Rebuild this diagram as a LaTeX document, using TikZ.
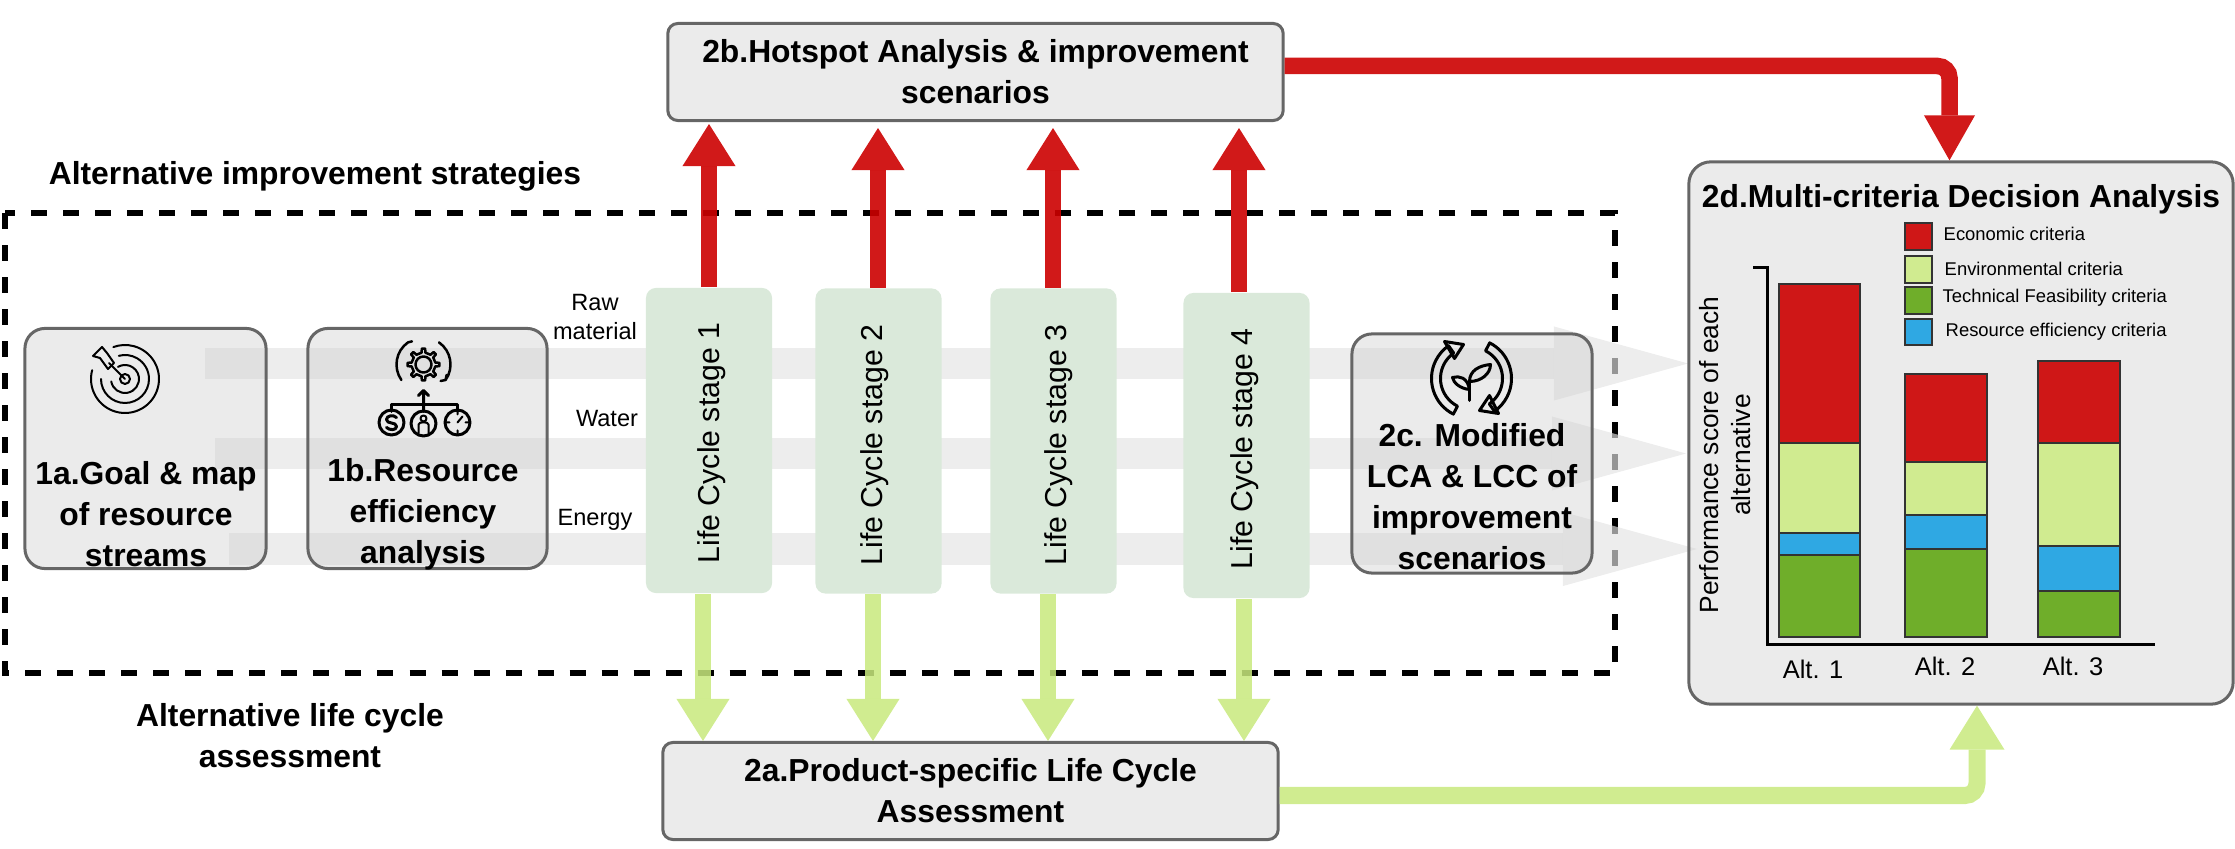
\documentclass[tikz,border=0pt]{standalone}
\usepackage{fontspec}
\setmainfont{Liberation Sans}
\usetikzlibrary{calc,positioning}
\usetikzlibrary{arrows.meta}
\definecolor{cred}{RGB}{204,0,0}
\definecolor{clime}{RGB}{200,233,125}
\definecolor{cbarred}{RGB}{207,23,23}
\definecolor{cbarlime}{RGB}{208,235,144}
\definecolor{cbargreen}{RGB}{111,174,42}
\definecolor{cbarblue}{RGB}{47,168,227}
\definecolor{cstage}{RGB}{218,233,218}
\definecolor{cbox}{RGB}{207,207,207}
\definecolor{cedge}{RGB}{102,102,102}
\definecolor{cflow}{RGB}{227,227,227}

\begin{document}
\begin{tikzpicture}[x=0.01cm,y=-0.01cm]
  \tikzstyle{boxnode} = [draw=cedge, line width=0.3mm, fill=cbox, fill opacity=0.42, text opacity=1, inner sep=0pt, align=center, font=\fontsize{9.05}{11.66}\selectfont\bfseries]
  \tikzstyle{boldtext} = [inner sep=0pt, align=center, font=\fontsize{9.05}{11.66}\selectfont\bfseries]
  \tikzstyle{stagenode} = [fill=cstage, rounded corners=1mm, inner sep=0pt, minimum width=1.26cm, minimum height=3.05cm]
  \tikzstyle{stagetext} = [rotate=90, inner sep=0pt, font=\fontsize{8.6}{10}\selectfont]
  \tikzstyle{sidetext} = [inner sep=0pt, align=center, font=\fontsize{6.7}{8.2}\selectfont]
  \tikzstyle{legtext} = [inner sep=0pt, anchor=west, font=\fontsize{5.24}{6.4}\selectfont]
  \tikzstyle{alttext} = [inner sep=0pt, font=\fontsize{7.25}{9}\selectfont]
  \tikzstyle{flowarrow} = [draw=cflow, opacity=0.66, line width=0.31cm, -{Triangle[length=1.34cm,width=0.74cm,line width=0pt]}]
  \tikzstyle{redarrow} = [draw=cred, opacity=0.9, line width=0.16cm, -{Triangle[length=0.42cm,width=0.53cm,line width=0pt]}]
  \tikzstyle{limearrow} = [draw=clime, opacity=0.85, line width=0.16cm, -{Triangle[length=0.42cm,width=0.53cm,line width=0pt]}]
  \tikzstyle{bar} = [draw=black!80, line width=0.15mm]
  \tikzstyle{icon} = [draw=black, line width=0.2mm, line cap=round, line join=round]
  \useasboundingbox (0,0) rectangle (2235,849);

  % dashed frame
  \draw[black, line width=0.6mm, dash pattern=on 1.6mm off 1.6mm] (5,213) rectangle (1615,673);

  % resource flows
  \coordinate (rawstart) at (205,363.5);
  \coordinate (rawend) at (1688,363.5);
  \coordinate (waterstart) at (215,453.5);
  \coordinate (waterend) at (1686,453.5);
  \coordinate (energystart) at (229,549);
  \coordinate (energyend) at (1697,549);
  \draw[flowarrow] (rawstart) -- (rawend);
  \draw[flowarrow] (waterstart) -- (waterend);
  \draw[flowarrow] (energystart) -- (energyend);

  % boxes
  \node[boxnode, rounded corners=2mm, minimum width=2.41cm, minimum height=2.4cm] (goal) at (145.5,448.5) {};
  \node[boxnode, rounded corners=2mm, minimum width=2.39cm, minimum height=2.4cm] (eff) at (427.5,448.5) {};
  \node[boxnode, rounded corners=2mm, minimum width=2.4cm, minimum height=2.39cm] (mod) at (1472,453.5) {};
  \node[boxnode, rounded corners=1mm, minimum width=6.15cm, minimum height=0.97cm] (hotspot) at (975.5,72) {2b.Hotspot Analysis \& improvement\\scenarios};
  \node[boxnode, rounded corners=1mm, minimum width=6.15cm, minimum height=0.97cm] (lca) at (970.5,791) {2a.Product-specific Life Cycle\\Assessment};
  \node[boxnode, rounded corners=2.2mm, minimum width=5.44cm, minimum height=5.42cm] (mcda) at (1961,433) {};

  \node[boldtext] (goaltext) at (146,514) {1a.Goal \& map\\of resource\\streams};
  \node[boldtext] (efftext) at (423,514) {1b.Resource\\efficiency\\analysis};
  \node[boldtext] (modtext) at (1472,497) {2c. Modified\\LCA \& LCC of\\improvement\\scenarios};
  \node[boldtext] (mcdatext) at (1961,199) {2d.Multi-criteria Decision Analysis};
  \node[boldtext] (strategies) at (315,176) {Alternative improvement strategies};
  \node[boldtext] (altlca) at (290,736) {Alternative life cycle\\assessment};

  % life cycle stages
  \node[stagenode] (stage1) at (709,440.5) {};
  \node[stagenode] (stage2) at (878.5,441) {};
  \node[stagenode] (stage3) at (1053.5,441) {};
  \node[stagenode] (stage4) at (1246.5,445.5) {};
  \node[stagetext] (stagetext1) at (712,443) {Life Cycle stage 1};
  \node[stagetext] (stagetext2) at (875,445) {Life Cycle stage 2};
  \node[stagetext] (stagetext3) at (1059,445) {Life Cycle stage 3};
  \node[stagetext] (stagetext4) at (1245,449) {Life Cycle stage 4};

  \node[sidetext] (raw) at (595,317) {Raw\\material};
  \node[sidetext] (water) at (607,419) {Water};
  \node[sidetext] (energy) at (595,520) {Energy};

  % arrows to the hotspot and lca boxes
  \foreach \s/\dx/\gap in {stage1/0mm/0.2mm,stage2/-0.05mm/0.6mm,stage3/-0.05mm/0.6mm,stage4/-0.75mm/0.6mm}{
    \draw[redarrow, shorten >=\gap] ([xshift=\dx]\s.north) -- ([xshift=\dx]\s.north |- hotspot.south);
  }
  \foreach \s/\dx in {stage1/-0.6mm,stage2/-0.55mm,stage3/-0.55mm,stage4/-0.25mm}{
    \draw[limearrow] ([xshift=\dx]\s.south) -- ([xshift=\dx]\s.south |- lca.north);
  }
  \draw[redarrow, line width=0.165cm, rounded corners=1.2mm, -{Triangle[length=0.45cm,width=0.51cm,line width=0pt]}] ([yshift=0.6mm]hotspot.east) -| ([xshift=-1.15mm]mcda.north);
  \draw[limearrow, line width=0.17cm, rounded corners=1.2mm, -{Triangle[length=0.44cm,width=0.55cm,line width=0pt]}] ([yshift=-0.45mm]lca.east) -| ([xshift=1.6mm]mcda.south);

  % bar chart
  \foreach \xa/\xb/\ya/\yb/\yc/\yd in {1779/1860/284/443/533/555,1905/1987/374/462/515/549,2038/2120/361/443/546/591}{
    \draw[bar, fill=cbarred] (\xa,\ya) rectangle (\xb,\yb);
    \draw[bar, fill=cbarlime] (\xa,\yb) rectangle (\xb,\yc);
    \draw[bar, fill=cbarblue] (\xa,\yc) rectangle (\xb,\yd);
    \draw[bar, fill=cbargreen] (\xa,\yd) rectangle (\xb,637);
  }
  \draw[black, line width=0.3mm] (1753,268) -- (1767,268) -- (1767,645) -- (2155,645);
  \node[alttext, rotate=90, align=center, font=\fontsize{7.5}{9.3}\selectfont] (yaxis) at (1725,455) {Performance score of each\\alternative};
  \node[alttext] (alt1) at (1813,669) {Alt. 1};
  \node[alttext] (alt2) at (1945,666) {Alt. 2};
  \node[alttext] (alt3) at (2073,666) {Alt. 3};

  % legend
  \draw[bar, fill=cbarred] (1905,223) rectangle (1932,250);
  \draw[bar, fill=cbarlime] (1905,256) rectangle (1932,283);
  \draw[bar, fill=cbargreen] (1905,287) rectangle (1932,314);
  \draw[bar, fill=cbarblue] (1905,319) rectangle (1932,345);
  \node[legtext] (legecon) at (1943,234) {Economic criteria};
  \node[legtext] (legenv) at (1944,269) {Environmental criteria};
  \node[legtext] (legtech) at (1942,298) {Technical Feasibility criteria};
  \node[legtext] (legres) at (1945,332) {Resource efficiency criteria};

  % target icon
  \begin{scope}[shift={(125,379)},x=0.01cm,y=0.01cm]
    \draw[icon] (165:34) arc[start angle=165,end angle=470,radius=34];
    \draw[icon] (180:24) arc[start angle=180,end angle=465,radius=24];
    \draw[icon] (190:14) arc[start angle=190,end angle=480,radius=14];
    \draw[icon] (0,0) circle (5);
    \draw[icon] (0,0) -- (-16,16);
    \draw[icon] (-23,32) -- (-32,23) -- (-25,21) -- (-17,10) -- (-11,16) -- (-18,26) -- cycle;
  \end{scope}

  % gear icon
  \begin{scope}[shift={(423.5,364.5)},x=0.01cm,y=0.01cm]
    \draw[icon, line width=0.25mm] (-9:12) \foreach \a in {0,45,...,315}{ -- ({\a-9}:12) -- ({\a-6}:16) -- ({\a+6}:16) -- ({\a+9}:12)} -- cycle;
    \draw[icon, line width=0.25mm] (0,0) circle (8);
    \draw[icon, line width=0.25mm] (215:27) arc[start angle=215,end angle=125,radius=27] -- ++(4,1);
    \draw[icon, line width=0.25mm] (55:27) arc[start angle=55,end angle=-35,radius=27] -- ++(-5,-1) ++(5,1) -- ++(1,5);
    \draw[icon, line width=0.3mm] (-32,-47) -- (-32,-40) -- (34,-40) -- (34,-47);
    \draw[icon, line width=0.3mm] (0,-47) -- (0,-27) (-5,-31) -- (0,-26) -- (5,-31);
    \draw[icon, line width=0.3mm] (-32,-58) circle (12.5);
    \draw[icon, line width=0.3mm] (0,-59) circle (12.5);
    \draw[icon, line width=0.3mm] (34,-58) circle (12.5);
    \draw[icon, line width=0.3mm] (-27,-53) .. controls (-30,-50) and (-37,-51) .. (-37,-55) .. controls (-37,-60) and (-27,-57) .. (-27,-62) .. controls (-27,-66) and (-34,-66) .. (-37,-63);
    \draw[icon] (0,-54) circle (3);
    \draw[icon] (-5,-69) -- (-5,-60) .. controls (-5,-57) and (5,-57) .. (5,-60) -- (5,-69);
    \draw[icon] (34,-58) -- (39,-52) (34,-47) -- (34,-50) (34,-69) -- (34,-66) (23,-58) -- (26,-58) (45,-58) -- (42,-58);
  \end{scope}

  % recycling leaf icon
  \begin{scope}[shift={(1471.5,378.5)},x=0.01cm,y=0.01cm]
    \draw[icon, line width=0.3mm] (243:40) arc[start angle=243,end angle=125,radius=40] -- (125:31) arc[start angle=125,end angle=243,radius=31] -- cycle;
    \draw[icon, line width=0.3mm] (63:40) arc[start angle=63,end angle=-55,radius=40] -- (-55:31) arc[start angle=-55,end angle=63,radius=31] -- cycle;
    \draw[icon, line width=0.3mm] (-8,34) -- (-27,37) -- (-17,20) -- cycle;
    \draw[icon, line width=0.3mm] (8,-32) -- (27,-35) -- (18,-17) -- cycle;
    \draw[icon, line width=0.3mm] (-2,-22) -- (-2,-3);
    \draw[icon, line width=0.3mm] (-2,-3) .. controls (-2,8) and (8,13) .. (19,14) .. controls (19,5) and (10,-3) .. (-2,-3);
    \draw[icon, line width=0.3mm] (-2,-11) .. controls (-12,-10) and (-18,-4) .. (-19,1) .. controls (-12,3) and (-4,1) .. (-2,-11);
  \end{scope}
\end{tikzpicture}
\end{document}
